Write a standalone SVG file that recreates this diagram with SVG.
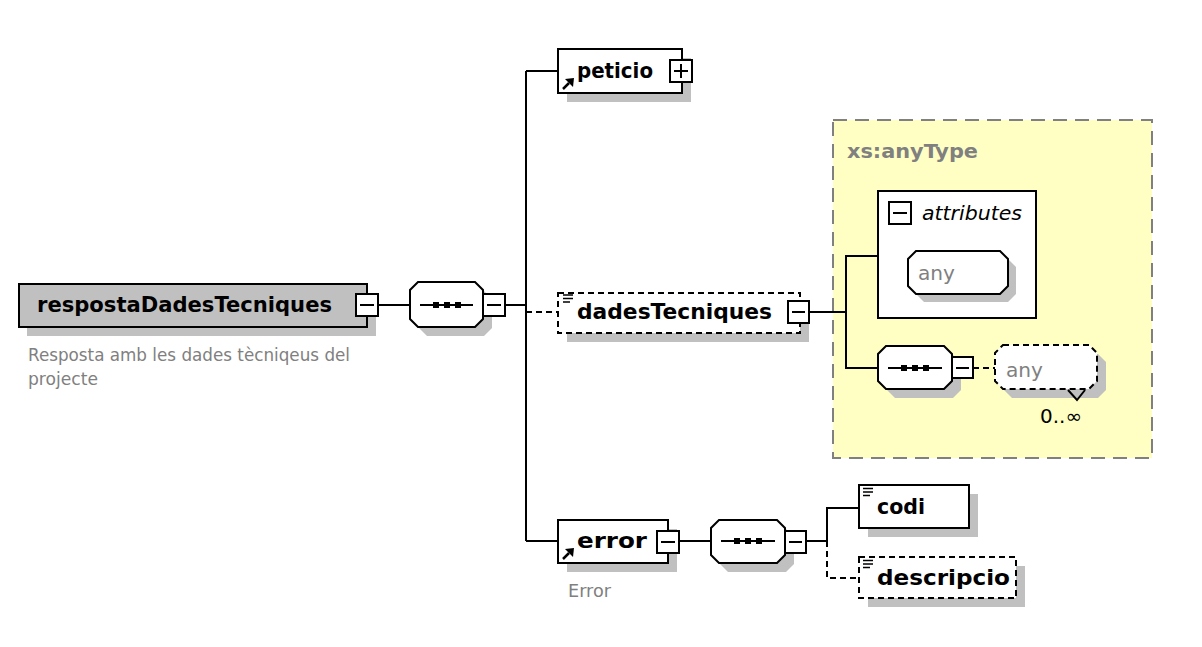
<svg xmlns="http://www.w3.org/2000/svg" width="1202" height="647" viewBox="0 0 1202 647">
<style>
.bg{fill:#ffffff}
.sh{fill:#c0c0c0;stroke:none}
.box{fill:#ffffff;stroke:#000000;stroke-width:2}
.dbox{fill:#ffffff;stroke:#000000;stroke-width:2;stroke-dasharray:6,4}
.root{fill:#c0c0c0;stroke:#000000;stroke-width:2}
.ln{fill:none;stroke:#000000;stroke-width:2}
.dln{fill:none;stroke:#000000;stroke-width:2;stroke-dasharray:6,4}
.lbl{font-family:"DejaVu Sans",Verdana,sans-serif;font-weight:bold;font-size:21px;fill:#000000}
.ann{font-family:"DejaVu Sans",Verdana,sans-serif;font-size:17px;fill:#808080}
.gray{font-family:"DejaVu Sans",Verdana,sans-serif;font-size:20px;fill:#808080}
.it{font-family:"DejaVu Sans",Verdana,sans-serif;font-style:italic;font-size:20px;fill:#000000}
.occ{font-family:"DejaVu Sans",Verdana,sans-serif;font-size:19px;fill:#000000}
.ico{stroke:#000000;stroke-width:1.5;fill:none}
</style>
<rect class="bg" x="0" y="0" width="1202" height="647"/>

<g id="anyType-group">
<rect x="833" y="120" width="319" height="338" fill="#ffffc4" stroke="#808080" stroke-width="2" stroke-dasharray="14,8"/>
<text x="847" y="158" class="lbl" style="fill:#808080;font-size:20px" textLength="131" lengthAdjust="spacingAndGlyphs">xs:anyType</text>
</g>

<g id="connectors">
<line class="ln" x1="378" y1="305" x2="410" y2="305"/>
<line class="ln" x1="505" y1="305" x2="526" y2="305"/>
<line class="ln" x1="526" y1="71" x2="526" y2="541"/>
<line class="ln" x1="526" y1="71" x2="558" y2="71"/>
<line class="dln" x1="526" y1="312" x2="558" y2="312"/>
<line class="ln" x1="526" y1="541" x2="558" y2="541"/>
<line class="ln" x1="809" y1="312" x2="846" y2="312"/>
<polyline class="ln" points="878,256 846,256 846,368 878,368"/>
<line class="dln" x1="973" y1="368" x2="995" y2="368"/>
<line class="ln" x1="679" y1="541" x2="711" y2="541"/>
<line class="ln" x1="806" y1="541" x2="827" y2="541"/>
<polyline class="ln" points="859,508 827,508 827,541"/>
<polyline class="dln" points="827,541 827,578 859,578"/>
</g>

<g id="respostaDadesTecniques">
<rect class="sh" x="27" y="293" width="349" height="43"/>
<rect class="root" x="19" y="284" width="348" height="43"/>
<text x="37" y="312" class="lbl" textLength="295" lengthAdjust="spacingAndGlyphs">respostaDadesTecniques</text>
<rect class="box" x="356" y="294" width="22" height="22"/>
<line class="ln" x1="360" y1="305" x2="374" y2="305"/>
<text x="28" y="361" class="ann" textLength="322" lengthAdjust="spacingAndGlyphs">Resposta amb les dades tècniqeus del</text>
<text x="28" y="385" class="ann" textLength="70" lengthAdjust="spacingAndGlyphs">projecte</text>
</g>

<g id="sequence1">
<path class="sh" d="M427,291 H484 L492,299 V328 L484,336 H427 L419,328 V299 Z"/>
<path class="box" d="M418,282 H475 L483,290 V319 L475,327 H418 L410,319 V290 Z"/>
<line class="ln" x1="420" y1="305" x2="473" y2="305"/>
<rect x="433" y="302" width="6" height="6" fill="#000"/>
<rect x="444" y="302" width="6" height="6" fill="#000"/>
<rect x="455" y="302" width="6" height="6" fill="#000"/>
<rect class="box" x="483" y="294" width="22" height="22"/>
<line class="ln" x1="487" y1="305" x2="501" y2="305"/>
</g>

<g id="peticio">
<rect class="sh" x="567" y="58" width="124" height="44"/>
<rect class="box" x="558" y="49" width="124" height="44"/>
<text x="577" y="78" class="lbl" textLength="76" lengthAdjust="spacingAndGlyphs">peticio</text>
<line x1="563" y1="89" x2="569" y2="83" stroke="#000" stroke-width="2.5"/>
<polygon points="574,78 565,79 573,87" fill="#000"/>
<rect class="box" x="670" y="60" width="22" height="22"/>
<line class="ln" x1="674" y1="71" x2="688" y2="71"/>
<line class="ln" x1="681" y1="64" x2="681" y2="78"/>
</g>

<g id="dadesTecniques">
<rect class="sh" x="567" y="302" width="242" height="40"/>
<rect class="dbox" x="558" y="293" width="242" height="40"/>
<line class="ico" x1="563" y1="295" x2="573" y2="295"/>
<line class="ico" x1="563" y1="298.5" x2="573" y2="298.5"/>
<line class="ico" x1="563" y1="302" x2="570" y2="302"/>
<text x="577" y="319" class="lbl" textLength="195" lengthAdjust="spacingAndGlyphs">dadesTecniques</text>
<rect class="box" x="788" y="301" width="21" height="22"/>
<line class="ln" x1="792" y1="312" x2="805" y2="312"/>
</g>

<g id="attributes">
<rect class="box" x="878" y="191" width="158" height="127"/>
<rect class="box" x="889" y="202" width="22" height="22"/>
<line class="ln" x1="893" y1="213" x2="907" y2="213"/>
<text x="922" y="220" class="it" textLength="100" lengthAdjust="spacingAndGlyphs">attributes</text>
</g>

<g id="anyAttribute">
<path class="sh" d="M924,259 H1008 L1016,267 V294 L1008,302 H924 L916,294 V267 Z"/>
<path class="box" d="M916,251 H1000 L1008,259 V286 L1000,294 H916 L908,286 V259 Z"/>
<text x="918" y="280" class="gray" textLength="37" lengthAdjust="spacingAndGlyphs">any</text>
</g>

<g id="sequence2">
<path class="sh" d="M895,355 H953 L961,363 V390 L953,398 H895 L887,390 V363 Z"/>
<path class="box" d="M886,346 H944 L952,354 V381 L944,389 H886 L878,381 V354 Z"/>
<line class="ln" x1="888" y1="368" x2="942" y2="368"/>
<rect x="901" y="365" width="6" height="6" fill="#000"/>
<rect x="912" y="365" width="6" height="6" fill="#000"/>
<rect x="923" y="365" width="6" height="6" fill="#000"/>
<rect class="box" x="952" y="357" width="21" height="21"/>
<line class="ln" x1="956" y1="368" x2="969" y2="368"/>
</g>

<g id="anyElement">
<path class="sh" d="M1012,354 H1098 L1106,362 V390 L1098,398 H1012 L1004,390 V362 Z"/>
<path class="dbox" d="M1003,345 H1089 L1097,353 V381 L1089,389 H1003 L995,381 V353 Z"/>
<polyline class="ln" points="1068,390 1077,400 1085,390"/>
<text x="1006" y="377" class="gray" textLength="37" lengthAdjust="spacingAndGlyphs">any</text>
<text x="1040" y="423" class="occ" textLength="42" lengthAdjust="spacingAndGlyphs">0..∞</text>
</g>

<g id="error">
<rect class="sh" x="567" y="529" width="110" height="43"/>
<rect class="box" x="558" y="520" width="110" height="43"/>
<text x="577" y="548" class="lbl" textLength="70" lengthAdjust="spacingAndGlyphs">error</text>
<line x1="563" y1="559" x2="569" y2="553" stroke="#000" stroke-width="2.5"/>
<polygon points="574,548 565,549 573,557" fill="#000"/>
<rect class="box" x="657" y="531" width="22" height="22"/>
<line class="ln" x1="661" y1="542" x2="675" y2="542"/>
<text x="568" y="597" class="ann" textLength="43" lengthAdjust="spacingAndGlyphs">Error</text>
</g>

<g id="sequence3">
<path class="sh" d="M728,529 H786 L794,537 V564 L786,572 H728 L720,564 V537 Z"/>
<path class="box" d="M719,520 H777 L785,528 V555 L777,563 H719 L711,555 V528 Z"/>
<line class="ln" x1="721" y1="541" x2="775" y2="541"/>
<rect x="734" y="538" width="6" height="6" fill="#000"/>
<rect x="745" y="538" width="6" height="6" fill="#000"/>
<rect x="756" y="538" width="6" height="6" fill="#000"/>
<rect class="box" x="785" y="531" width="21" height="22"/>
<line class="ln" x1="789" y1="542" x2="802" y2="542"/>
</g>

<g id="codi">
<rect class="sh" x="868" y="494" width="110" height="43"/>
<rect class="box" x="859" y="485" width="110" height="43"/>
<line class="ico" x1="863" y1="488.5" x2="873" y2="488.5"/>
<line class="ico" x1="863" y1="492" x2="873" y2="492"/>
<line class="ico" x1="863" y1="495.5" x2="870" y2="495.5"/>
<text x="877" y="514" class="lbl" textLength="48" lengthAdjust="spacingAndGlyphs">codi</text>
</g>

<g id="descripcio">
<rect class="sh" x="868" y="566" width="157" height="41"/>
<rect class="dbox" x="859" y="557" width="157" height="41"/>
<line class="ico" x1="863" y1="560.5" x2="873" y2="560.5"/>
<line class="ico" x1="863" y1="564" x2="873" y2="564"/>
<line class="ico" x1="863" y1="567.5" x2="870" y2="567.5"/>
<text x="877" y="585" class="lbl" textLength="133" lengthAdjust="spacingAndGlyphs">descripcio</text>
</g>
</svg>
